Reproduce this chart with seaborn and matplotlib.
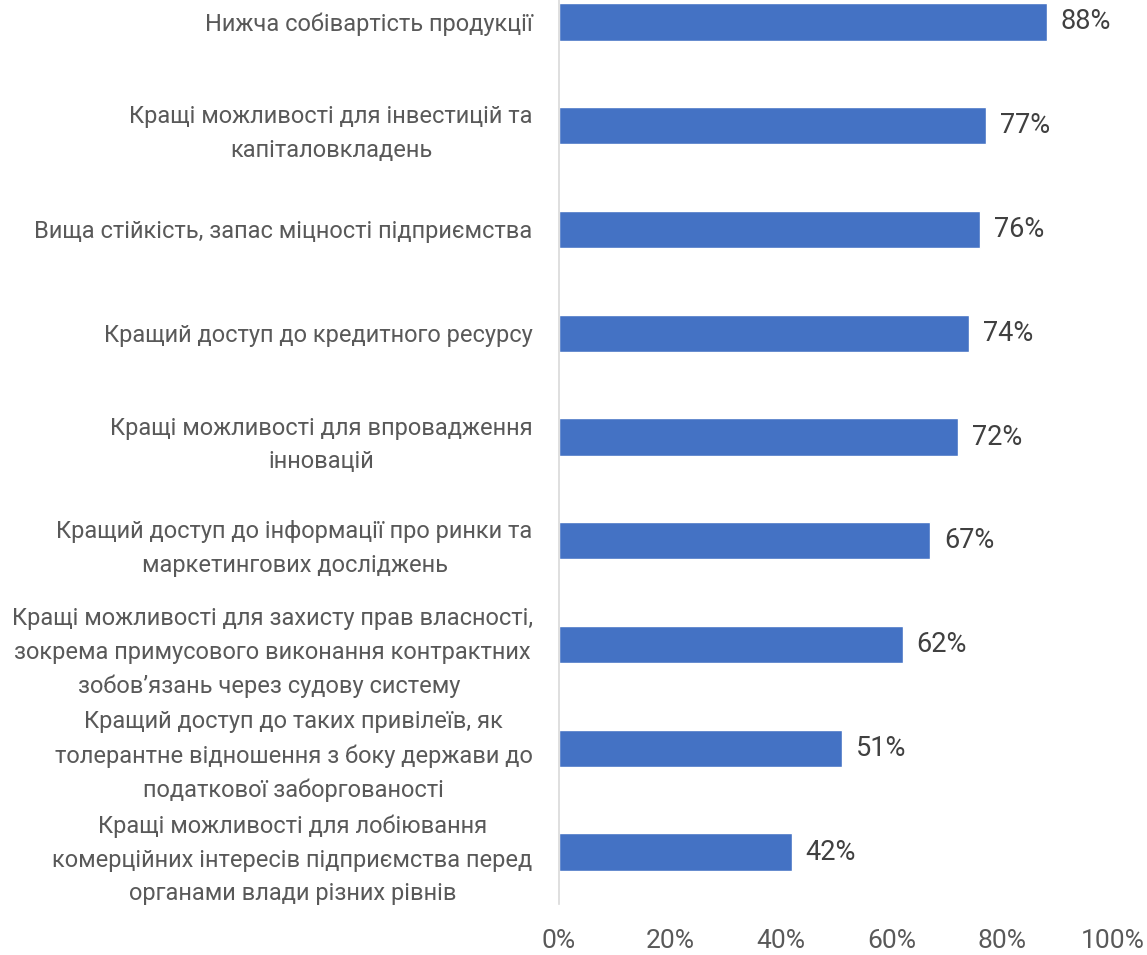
import matplotlib
matplotlib.use("Agg")
import matplotlib.pyplot as plt
import seaborn as sns
import pandas as pd

categories = [
    "Нижча собівартість продукції",
    "Кращі можливості для інвестицій та\nкапіталовкладень",
    "Вища стійкість, запас міцності підприємства",
    "Кращий доступ до кредитного ресурсу",
    "Кращі можливості для впровадження\nінновацій",
    "Кращий доступ до інформації про ринки та\nмаркетингових досліджень",
    "Кращі можливості для захисту прав власності,\nзокрема примусового виконання контрактних\nзобов’язань через судову систему ",
    "Кращий доступ до таких привілеїв, як\nтолерантне відношення з боку держави до\nподаткової заборгованості",
    "Кращі можливості для лобіювання\nкомерційних інтересів підприємства перед\nорганами влади різних рівнів",
]
values = [0.88, 0.77, 0.76, 0.74, 0.72, 0.67, 0.62, 0.51, 0.42]
xticks = [0, 0.2, 0.4, 0.6, 0.8, 1.0]
xtick_labels = ["0%", "20%", "40%", "60%", "80%", "100%"]

sns.set_theme(style="white")
plt.rcParams['font.family'] = ['Roboto', 'DejaVu Sans']

df = pd.DataFrame({"cat": categories, "val": values})

fig = plt.figure(figsize=(11.47, 9.55), dpi=100)
ax = fig.add_axes([0.4874, 0.0534, 0.483, 0.978])
sns.barplot(data=df, x="val", y="cat", orient="h", color="#4472C4",
            width=0.36, saturation=1, ax=ax)

ax.set_xlim(0, 1)
ax.set_ylim(8.5, -0.5)
ax.set_xticks(xticks)
ax.set_xticklabels(xtick_labels, fontsize=19, color="#595959")
ax.set_xlabel("")
ax.set_ylabel("")
ax.tick_params(axis="x", length=0, pad=18)
ax.tick_params(axis="y", length=0, pad=19)
for lbl in ax.get_yticklabels():
    lbl.set_fontsize(17)
    lbl.set_color("#595959")
    lbl.set_ha("right")
    lbl.set_multialignment("center")
    lbl.set_linespacing(1.58)

for s in ["top", "right", "bottom"]:
    ax.spines[s].set_visible(False)
ax.spines["left"].set_color("#D9D9D9")
ax.spines["left"].set_linewidth(1.2)

ax.bar_label(ax.containers[0], labels=[f"{round(v*100)}%" for v in values],
             padding=10, fontsize=19.5, color="#404040")

fig.savefig("out.png", dpi=100)
